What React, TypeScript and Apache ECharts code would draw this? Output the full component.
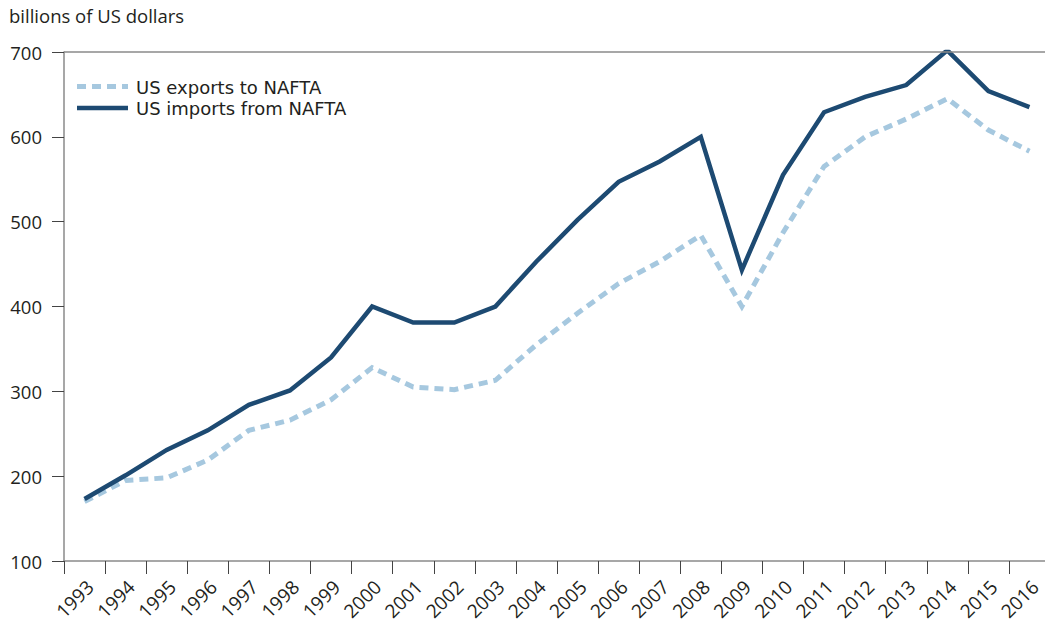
import React, { useEffect, useRef } from "react";
import * as echarts from "echarts";

const years = ["1993","1994","1995","1996","1997","1998","1999","2000","2001","2002","2003","2004","2005","2006","2007","2008","2009","2010","2011","2012","2013","2014","2015","2016"];
const exportsNafta = [170,195,198,219,254,266,290,328,305,302,313,355,392,427,453,484,400,487,565,600,621,645,608,583];
const importsNafta = [173,201,231,254,284,301,340,400,381,381,400,453,502,547,571,600,443,555,629,647,661,702,654,635];
const yTicks = { min: 100, max: 700, interval: 100 };
const titleText = "billions of US dollars";
const exportsName = "US exports to NAFTA";
const importsName = "US imports from NAFTA";

const FONT = "'Open Sans', sans-serif";
const LEG_FONT = "'DejaVu Sans', sans-serif";
const TEXT = "#231f20";
const FS = 18.5;
const FS_LEG = 18;
const FS_X = 19;
const EXP_COLOR = "#a6c8df";
const IMP_COLOR = "#1d4a72";
const EXP_DASH = [9, 6];

export default function App() {
  const ref = useRef<HTMLDivElement>(null);
  useEffect(() => {
    if (!ref.current) return;
    const chart = echarts.init(ref.current, undefined, { renderer: "svg" });
    chart.setOption({
      animation: false,
      textStyle: { fontFamily: FONT },
      title: {
        text: titleText,
        left: 4,
        top: 1,
        textStyle: { fontFamily: FONT, fontSize: FS, fontWeight: "normal", color: TEXT },
      },
      graphic: [
        { type: "line", shape: { x1: 77, y1: 86.5, x2: 128, y2: 86.5 }, style: { stroke: EXP_COLOR, lineWidth: 5, lineDash: EXP_DASH } },
        { type: "line", shape: { x1: 77, y1: 108, x2: 128, y2: 108 }, style: { stroke: IMP_COLOR, lineWidth: 4.5 } },
        { type: "text", x: 136, y: 87, style: { text: exportsName, fill: TEXT, font: `${FS_LEG}px ${LEG_FONT}`, verticalAlign: "middle" } },
        { type: "text", x: 136, y: 108, style: { text: importsName, fill: TEXT, font: `${FS_LEG}px ${LEG_FONT}`, verticalAlign: "middle" } },
      ],
      grid: { left: 64, right: 0, top: 52, bottom: 62, containLabel: false, outerBoundsMode: "none" },
      xAxis: {
        type: "category",
        data: years,
        boundaryGap: true,
        axisLine: { show: true, lineStyle: { color: "#8a8a8a", width: 1.5 } },
        axisTick: { show: true, length: 13, alignWithLabel: false, lineStyle: { color: "#444", width: 1 } },
        axisLabel: { rotate: 45, margin: 17, fontSize: FS_X, lineHeight: 16, align: "right", verticalAlign: "top", color: TEXT, fontFamily: FONT, interval: 0 },
        splitLine: { show: false },
      },
      yAxis: {
        type: "value",
        min: yTicks.min,
        max: yTicks.max,
        interval: yTicks.interval,
        axisLine: { show: true, lineStyle: { color: "#8a8a8a", width: 1.5 } },
        axisTick: { show: true, length: 12, lineStyle: { color: "#444", width: 1 } },
        axisLabel: { margin: 22, fontSize: FS, color: TEXT, fontFamily: FONT },
        splitLine: { show: false },
      },
      series: [
        {
          name: exportsName,
          type: "line",
          data: exportsNafta,
          symbol: "none",
          lineStyle: { color: EXP_COLOR, width: 5, type: EXP_DASH, cap: "butt", join: "miter" },
          itemStyle: { color: EXP_COLOR },
          markLine: {
            silent: true,
            symbol: "none",
            label: { show: false },
            lineStyle: { color: "#8a8a8a", width: 1.5, type: "solid" },
            data: [{ yAxis: yTicks.max }],
          },
          z: 2,
        },
        {
          name: importsName,
          type: "line",
          data: importsNafta,
          symbol: "none",
          lineStyle: { color: IMP_COLOR, width: 4.5, cap: "butt", join: "miter" },
          itemStyle: { color: IMP_COLOR },
          z: 3,
        },
      ],
    });
    return () => chart.dispose();
  }, []);
  return (
    <div style={{ position: "absolute", left: 0, top: 0, width: 1045, height: 623, overflow: "hidden", background: "#fff" }}>
      <div ref={ref} style={{ width: 1050, height: 623 }} />
    </div>
  );
}
